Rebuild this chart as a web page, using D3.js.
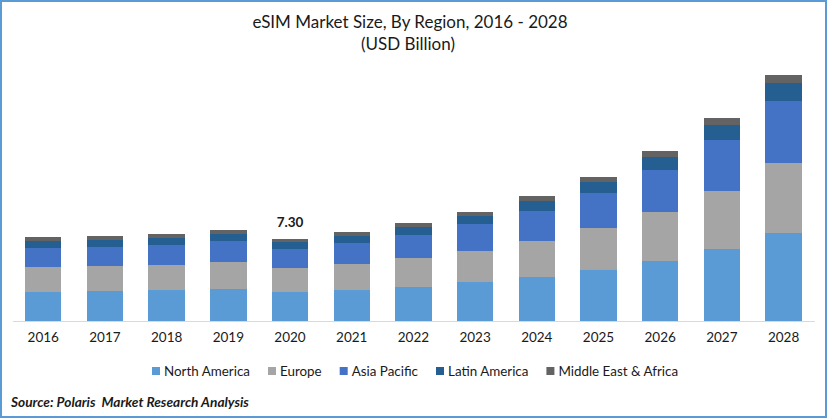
<!DOCTYPE html>
<html>
<head>
<meta charset="utf-8">
<script src="https://cdn.jsdelivr.net/npm/d3@7"></script>
<style>
  html, body { margin: 0; padding: 0; background: #fff; }
  svg { display: block; }
  text { font-family: Lato, "Open Sans", sans-serif; fill: #1a1a1a; }
</style>
</head>
<body>
<svg id="chart" width="827" height="418"></svg>
<script>
const years = ['2016', '2017', '2018', '2019', '2020', '2021', '2022', '2023', '2024', '2025', '2026', '2027', '2028'];
const regions = ['North America', 'Europe', 'Asia Pacific', 'Latin America', 'Middle East & Africa'];
const colors = ['#5b9bd5', '#a5a5a5', '#4472c4', '#255e91', '#636363'];

const northAmerica = [2.58, 2.67, 2.76, 2.85, 2.58, 2.76, 3.03, 3.47, 3.92, 4.54, 5.34, 6.41, 7.83];
const europe = [2.23, 2.23, 2.23, 2.40, 2.14, 2.31, 2.58, 2.76, 3.20, 3.74, 4.36, 5.16, 6.23];
const asiaPacific = [1.69, 1.69, 1.78, 1.87, 1.69, 1.87, 2.05, 2.40, 2.67, 3.12, 3.74, 4.54, 5.52];
const latinAmerica = [0.62, 0.62, 0.62, 0.62, 0.62, 0.62, 0.71, 0.71, 0.89, 0.98, 1.16, 1.34, 1.60];
const middleEastAfrica = [0.36, 0.36, 0.36, 0.36, 0.27, 0.36, 0.36, 0.36, 0.45, 0.45, 0.53, 0.62, 0.71];

const labelYear = '2020';
const labelValue = '7.30';

const svg = d3.select('#chart');
const width = 827;
const height = 418;
const baseline = 321;

// frame
svg.append('rect')
  .attr('x', 1).attr('y', 1)
  .attr('width', width - 2).attr('height', height - 2)
  .attr('fill', '#fff')
  .attr('stroke', '#5b9bd5')
  .attr('stroke-width', 2);

// title
svg.append('text')
  .attr('x', 410).attr('y', 28)
  .attr('text-anchor', 'middle')
  .attr('font-size', 17)
  .text('eSIM Market Size, By Region, 2016 - 2028');
svg.append('text')
  .attr('x', 408).attr('y', 50)
  .attr('text-anchor', 'middle')
  .attr('font-size', 17)
  .text('(USD Billion)');

const rows = years.map((year, i) => ({
  year,
  [regions[0]]: northAmerica[i],
  [regions[1]]: europe[i],
  [regions[2]]: asiaPacific[i],
  [regions[3]]: latinAmerica[i],
  [regions[4]]: middleEastAfrica[i],
}));

const x = d3.scaleBand().domain(years).range([12.4, 814.4]).paddingInner(0.41).paddingOuter(0.205);
const y = d3.scaleLinear().domain([0, 22]).range([baseline, baseline - 22 * 11.233]);
const color = d3.scaleOrdinal().domain(regions).range(colors);

const series = d3.stack().keys(regions)(rows);

svg.append('g')
  .selectAll('g')
  .data(series)
  .enter()
  .append('g')
  .attr('fill', d => color(d.key))
  .selectAll('rect')
  .data(d => d)
  .enter()
  .append('rect')
  .attr('x', d => x(d.data.year))
  .attr('width', x.bandwidth())
  .attr('y', d => y(d[1]))
  .attr('height', d => y(d[0]) - y(d[1]))
  .attr('shape-rendering', 'crispEdges');

// x axis
const axis = svg.append('g')
  .attr('transform', `translate(0, ${baseline})`)
  .call(d3.axisBottom(x).tickSize(0).tickPadding(11));
axis.select('.domain').attr('stroke', '#d9d9d9').attr('stroke-width', 1);
axis.selectAll('text')
  .attr('font-size', 13.5)
  .style('font-family', 'Lato, "Open Sans", sans-serif');

// data label
svg.append('text')
  .attr('x', x(labelYear) + x.bandwidth() / 2)
  .attr('y', y(d3.sum(series, s => s[years.indexOf(labelYear)][1] - s[years.indexOf(labelYear)][0])) - 12)
  .attr('text-anchor', 'middle')
  .attr('font-size', 13.5)
  .attr('font-weight', 700)
  .text(labelValue);

// legend
let legendX = 152;
const legend = svg.append('g').attr('transform', 'translate(0, 371)');
regions.forEach(region => {
  legend.append('rect')
    .attr('x', legendX).attr('y', -4)
    .attr('width', 8).attr('height', 8)
    .attr('fill', color(region));
  const label = legend.append('text')
    .attr('x', legendX + 12).attr('y', 5)
    .attr('font-size', 13.4)
    .text(region);
  legendX += 12 + label.node().getComputedTextLength() + 18;
});

// source
svg.append('text')
  .attr('x', 11).attr('y', 407)
  .attr('font-size', 13.7)
  .attr('font-weight', 700)
  .attr('font-style', 'italic')
  .attr('xml:space', 'preserve')
  .text('Source: Polaris  Market Research Analysis');
</script>
</body>
</html>
